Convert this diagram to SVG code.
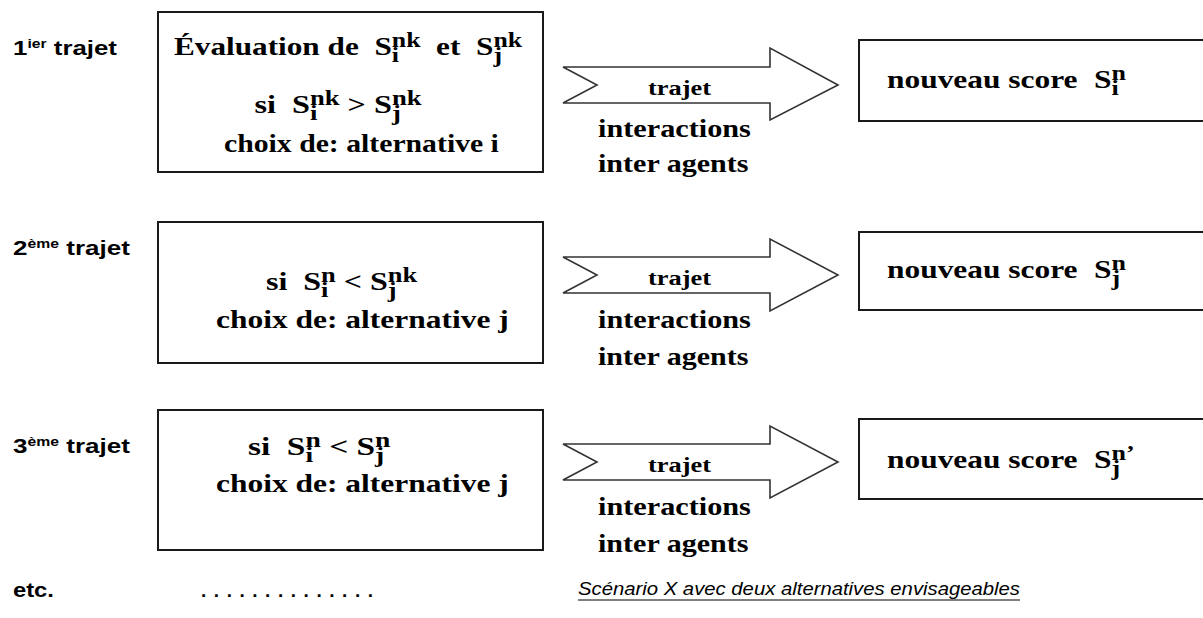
<svg xmlns="http://www.w3.org/2000/svg" width="1203" height="618" viewBox="0 0 1203 618">
<style>
.box{fill:#fff;stroke:#1a1a1a;stroke-width:2}
.arrow{fill:#fff;stroke:#333;stroke-width:1.6}
.serif{font-family:"Liberation Serif","Times New Roman",serif;font-weight:bold;font-size:23px;fill:#000}
.sm{font-size:19px}
.sans{font-family:"Liberation Sans",Arial,sans-serif;font-weight:bold;font-size:19px;fill:#000}
.sup{font-size:11.5px}
.note{font-family:"Liberation Sans",Arial,sans-serif;font-style:italic;font-size:19px;fill:#000}
</style>
<rect width="1203" height="618" fill="#fff"/>

<g id="label1">
<text class="sans" transform="translate(13,55) scale(1.36,1.05)"><tspan x="0" y="0">1</tspan><tspan class="sup" x="10.6" y="-7">ier</tspan><tspan x="30" y="0">trajet</tspan></text>
</g>
<g id="label2">
<text class="sans" transform="translate(13,255) scale(1.37,1.05)"><tspan x="0" y="0">2</tspan><tspan class="sup" x="10.6" y="-7">ème</tspan><tspan x="38.9" y="0">trajet</tspan></text>
</g>
<g id="label3">
<text class="sans" transform="translate(13,453) scale(1.37,1.05)"><tspan x="0" y="0">3</tspan><tspan class="sup" x="10.6" y="-7">ème</tspan><tspan x="38.9" y="0">trajet</tspan></text>
</g>

<g id="eval1">
<rect class="box" x="158" y="12" width="385" height="160"/>
<text class="serif" transform="translate(174,55) scale(1.358,1.1)"><tspan x="0" y="0">Évaluation de</tspan><tspan x="147.6" y="0">S</tspan><tspan class="sm" x="160.4" y="6">i</tspan><tspan class="sm" x="160.4" y="-7">nk</tspan><tspan x="193" y="0">et</tspan><tspan x="222.4" y="0">S</tspan><tspan class="sm" x="235.2" y="6">j</tspan><tspan class="sm" x="235.2" y="-7">nk</tspan></text>
<text class="serif" transform="translate(254.6,113) scale(1.4,1.1)"><tspan x="0" y="0">si</tspan><tspan x="26.8" y="0">S</tspan><tspan class="sm" x="39.6" y="6">i</tspan><tspan class="sm" x="39.6" y="-7">nk</tspan><tspan x="66.4" y="0">&gt;</tspan><tspan x="85.3" y="0">S</tspan><tspan class="sm" x="98.1" y="6">j</tspan><tspan class="sm" x="98.1" y="-7">nk</tspan></text>
<text class="serif" transform="translate(224,152) scale(1.293,1.1)">choix de: alternative i</text>
</g>

<g id="eval2">
<rect class="box" x="158" y="222" width="385" height="141"/>
<text class="serif" transform="translate(266,290) scale(1.39,1.1)"><tspan x="0" y="0">si</tspan><tspan x="26.8" y="0">S</tspan><tspan class="sm" x="39.6" y="6">i</tspan><tspan class="sm" x="39.6" y="-7">n</tspan><tspan x="56" y="0">&lt;</tspan><tspan x="74.8" y="0">S</tspan><tspan class="sm" x="87.6" y="6">j</tspan><tspan class="sm" x="87.6" y="-7">nk</tspan></text>
<text class="serif" transform="translate(216,328) scale(1.369,1.1)">choix de: alternative j</text>
</g>

<g id="eval3">
<rect class="box" x="158" y="410" width="385" height="140"/>
<text class="serif" transform="translate(248,455) scale(1.45,1.1)"><tspan x="0" y="0">si</tspan><tspan x="26.8" y="0">S</tspan><tspan class="sm" x="39.6" y="6">i</tspan><tspan class="sm" x="39.6" y="-7">n</tspan><tspan x="56" y="0">&lt;</tspan><tspan x="74.8" y="0">S</tspan><tspan class="sm" x="87.6" y="6">j</tspan><tspan class="sm" x="87.6" y="-7">n</tspan></text>
<text class="serif" transform="translate(216,492) scale(1.369,1.1)">choix de: alternative j</text>
</g>

<g id="score1">
<rect class="box" x="859" y="40" width="360" height="81"/>
<text class="serif" transform="translate(887,88) scale(1.367,1.1)"><tspan x="0" y="0">nouveau score</tspan><tspan x="151.4" y="0">S</tspan><tspan class="sm" x="164.2" y="6">i</tspan><tspan class="sm" x="164.2" y="-7">n</tspan></text>
</g>
<g id="score2">
<rect class="box" x="859" y="232" width="360" height="78"/>
<text class="serif" transform="translate(887,278) scale(1.367,1.1)"><tspan x="0" y="0">nouveau score</tspan><tspan x="151.4" y="0">S</tspan><tspan class="sm" x="164.2" y="6">j</tspan><tspan class="sm" x="164.2" y="-7">n</tspan></text>
</g>
<g id="score3">
<rect class="box" x="859" y="419" width="360" height="80"/>
<text class="serif" transform="translate(887,468) scale(1.367,1.1)"><tspan x="0" y="0">nouveau score</tspan><tspan x="151.4" y="0">S</tspan><tspan class="sm" x="164.2" y="6">j</tspan><tspan class="sm" x="164.2" y="-7">n’</tspan></text>
</g>

<g id="connectors">
<polygon class="arrow" points="563,67 770,67 770,48 838,85 770,120 770,103 563,103 597,85"/>
<polygon class="arrow" points="563,257 770,257 770,239 838,275 770,311 770,293 563,293 597,275"/>
<polygon class="arrow" points="563,444 770,444 770,426 838,462 770,498 770,480 563,480 597,462"/>
<text class="serif" transform="translate(648,95) scale(1.32,1.1)" style="font-size:20px">trajet</text>
<text class="serif" transform="translate(598,137) scale(1.315,1.1)">interactions</text>
<text class="serif" transform="translate(598,172) scale(1.306,1.1)">inter agents</text>
<text class="serif" transform="translate(648,285) scale(1.32,1.1)" style="font-size:20px">trajet</text>
<text class="serif" transform="translate(598,328) scale(1.315,1.1)">interactions</text>
<text class="serif" transform="translate(598,365) scale(1.306,1.1)">inter agents</text>
<text class="serif" transform="translate(648,472) scale(1.32,1.1)" style="font-size:20px">trajet</text>
<text class="serif" transform="translate(598,515) scale(1.315,1.1)">interactions</text>
<text class="serif" transform="translate(598,552) scale(1.306,1.1)">inter agents</text>
</g>

<g id="footer">
<text class="sans" transform="translate(13,597) scale(1.25,1.05)">etc.</text>
<text class="sans" x="201" y="597" textLength="172" lengthAdjust="spacing">. . . . . . . . . . . . . .</text>
<text class="note" x="578" y="595" textLength="442" lengthAdjust="spacingAndGlyphs">Scénario X avec deux alternatives envisageables</text>
<line x1="578" y1="600" x2="1020" y2="600" stroke="#000" stroke-width="1.2"/>
</g>
</svg>
